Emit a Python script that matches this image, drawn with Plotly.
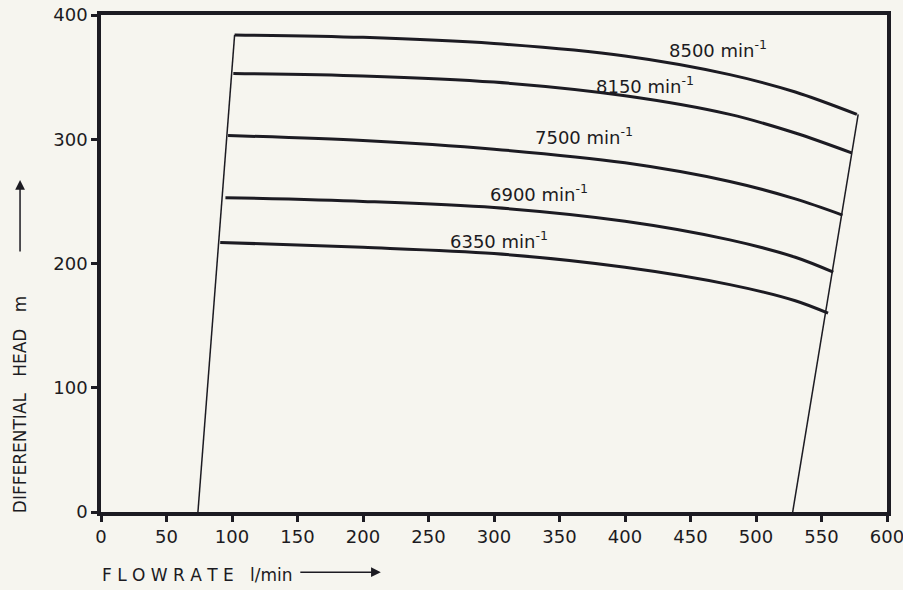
import plotly.graph_objects as go

# ---- data ----
speeds = ["8500", "8150", "7500", "6900", "6350"]
flow_8500 = [102, 200, 300, 400, 480, 530, 577]
head_8500 = [384, 382, 377, 367, 352, 338, 320]
flow_8150 = [101, 200, 300, 400, 480, 530, 573]
head_8150 = [353, 351, 346, 335, 320, 305, 289]
flow_7500 = [97, 200, 300, 400, 480, 530, 566]
head_7500 = [303, 299, 292, 281, 266, 252, 239]
flow_6900 = [95, 200, 300, 400, 480, 530, 559]
head_6900 = [253, 250, 245, 234, 219, 205, 193]
flow_6350 = [91, 200, 300, 400, 480, 530, 555]
head_6350 = [217, 213, 208, 197, 183, 170, 160]

left_limit_flow = [74, 102]
left_limit_head = [0, 384]
right_limit_flow = [528, 578]
right_limit_head = [0, 320]

x_ticks = [0, 50, 100, 150, 200, 250, 300, 350, 400, 450, 500, 550, 600]
y_ticks = [0, 100, 200, 300, 400]

# label anchor positions (data coords)
label_x = [471, 415, 369, 334, 304]
label_y = [373, 344, 303, 257, 219]

curves = [(flow_8500, head_8500), (flow_8150, head_8150), (flow_7500, head_7500),
          (flow_6900, head_6900), (flow_6350, head_6350)]

INK = "#1c1b22"
FONT = "DejaVu Sans, sans-serif"
BG = "#f6f5ef"

fig = go.Figure()
for (fx, hy) in curves:
    fig.add_trace(go.Scatter(x=fx, y=hy, mode="lines",
                             line=dict(color=INK, width=3, shape="spline", smoothing=0.9),
                             showlegend=False, hoverinfo="skip"))
fig.add_trace(go.Scatter(x=left_limit_flow, y=left_limit_head, mode="lines",
                         line=dict(color=INK, width=1.5), showlegend=False, hoverinfo="skip"))
fig.add_trace(go.Scatter(x=right_limit_flow, y=right_limit_head, mode="lines",
                         line=dict(color=INK, width=1.5), showlegend=False, hoverinfo="skip"))

for s, lx, ly in zip(speeds, label_x, label_y):
    fig.add_annotation(x=lx, y=ly, xref="x", yref="y", text=f"{s} min<sup>-1</sup>",
                       showarrow=False, xanchor="center", yanchor="middle",
                       font=dict(family=FONT, size=18, color=INK))

# axis titles with arrows
fig.add_annotation(x=-0.103, y=0.215, xref="paper", yref="paper", text="DIFFERENTIAL   HEAD   m",
                   textangle=-90, showarrow=False, xanchor="center", yanchor="middle",
                   font=dict(family=FONT, size=17, color=INK))
fig.add_annotation(x=-0.103, y=0.668, xref="paper", yref="paper", text="",
                   showarrow=True, ax=0, ay=73, arrowhead=2, arrowsize=1.3, arrowwidth=1.5,
                   arrowcolor=INK)
fig.add_annotation(x=-0.001, y=-0.127, xref="paper", yref="paper", text="F L O W R A T E   l/min",
                   showarrow=False, xanchor="left", yanchor="middle",
                   font=dict(family=FONT, size=17, color=INK))
fig.add_annotation(x=0.356, y=-0.121, xref="paper", yref="paper", text="",
                   showarrow=True, ax=-82, ay=0, arrowhead=2, arrowsize=1.3, arrowwidth=1.5,
                   arrowcolor=INK)

fig.update_xaxes(range=[0, 600], tickvals=x_ticks, ticks="outside", ticklen=6, tickwidth=3,
                 tickcolor=INK, showline=True, linewidth=3.5, linecolor=INK, mirror=True,
                 showgrid=False, zeroline=False, automargin=False, ticklabeloverflow="allow",
                 tickfont=dict(family=FONT, size=18, color=INK))
fig.update_yaxes(range=[0, 400], tickvals=y_ticks, ticks="outside", ticklen=6, tickwidth=3,
                 tickcolor=INK, showline=True, linewidth=3.5, linecolor=INK, mirror=True,
                 showgrid=False, zeroline=False, automargin=False, ticklabeloverflow="allow",
                 tickfont=dict(family=FONT, size=18, color=INK))

fig.update_layout(width=903, height=590, margin=dict(l=101, r=16, t=15, b=78),
                  paper_bgcolor=BG, plot_bgcolor=BG)

fig.write_html("out.html", config={"displayModeBar": False},
               post_script="document.body.style.margin='0';document.body.style.overflow='hidden';")
